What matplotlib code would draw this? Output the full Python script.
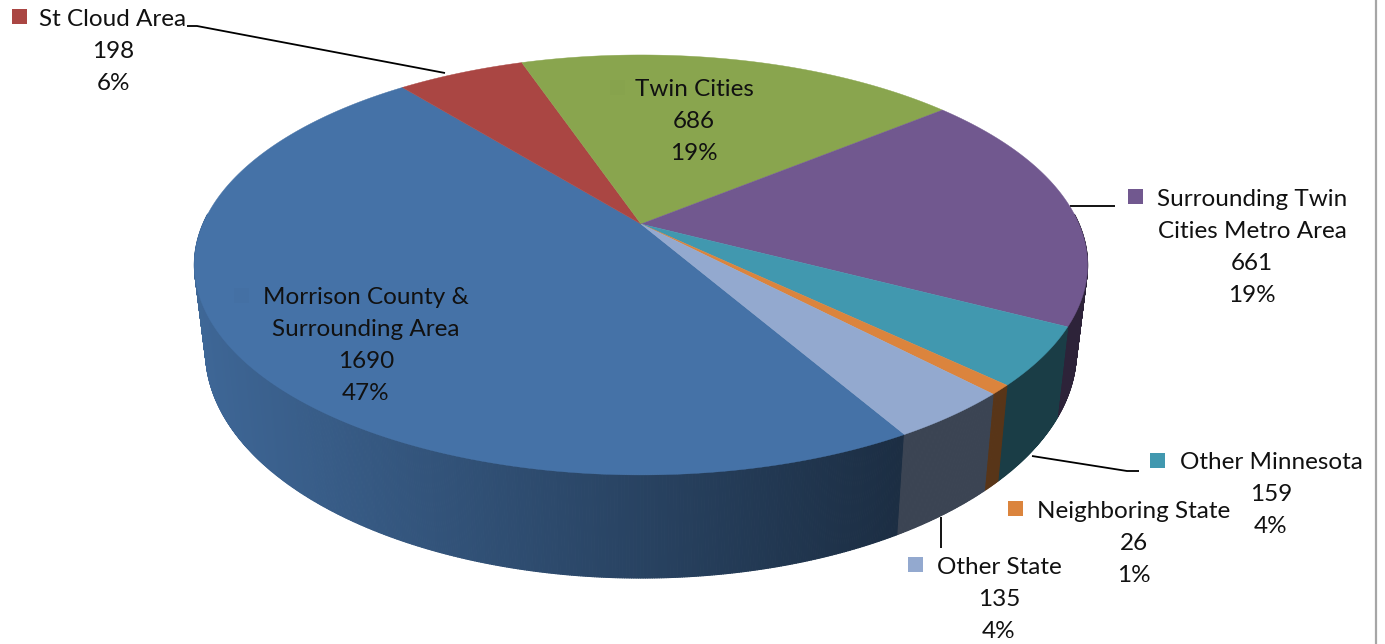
import numpy as np
import matplotlib
matplotlib.use('Agg')
import matplotlib.pyplot as plt
from matplotlib.collections import PolyCollection
from matplotlib.colors import to_rgb

categories = ['Morrison County &\nSurrounding Area', 'St Cloud Area', 'Twin Cities',
              'Surrounding Twin\nCities Metro Area', 'Other Minnesota', 'Neighboring State', 'Other State']
values = [1690, 198, 686, 661, 159, 26, 135]
percents = ['47%', '6%', '19%', '19%', '4%', '1%', '4%']
colors = ['#4572A7', '#AA4643', '#89A54E', '#71588F', '#4198AF', '#DB843D', '#93A9CF']

# label centre x, first line y, legend key left, key top
label_pos = [(366, 297, 234, 288), (113, 19, 12, 9), (694, 89, 610, 80), (1252, 199, 1128, 189),
             (1271, 462, 1150, 453), (1134, 511, 1008, 501), (999, 567, 908, 557)]
leaders = [[(187, 26), (197, 26), (445, 73)], [(1070, 206), (1115, 206)],
           [(1032, 456), (1127, 471), (1139, 471)], [(941, 517), (941, 548)]]

W, H = 1385, 644
CX, AY = 641, 224
R, B, K = 438, 202, 0.195
DEPTH, BOTTOM_SCALE = 83, 0.975
START = 150

plt.rcParams['font.family'] = ['Lato', 'DejaVu Sans']


def project(theta, depth=0.0, scale=1.0):
    # theta is clockwise from the back of the pie, in degrees
    t = np.radians(theta)
    u, v = np.sin(t), -np.cos(t)
    w = 1 - K * v
    return CX + R * scale * u / w, AY + (B * v + depth) / w


def shade(x):
    return np.clip(0.9 - 0.5 * (x - 200) / 700, 0.4, 0.95)


fig = plt.figure(figsize=(W / 100, H / 100), dpi=100)
ax = fig.add_axes([0, 0, 1, 1])
ax.set_xlim(0, W)
ax.set_ylim(H, 0)
ax.axis('off')

edges = START + np.concatenate([[0], np.cumsum(values)]) / np.sum(values) * 360

# outer wall first, split in thin strips for the shading
for i, col in enumerate(colors):
    base = np.array(to_rgb(col))
    a0, a1 = edges[i], edges[i + 1]
    n = max(int((a1 - a0) / 0.25), 2)
    th = np.linspace(a0, a1, n + 1)
    keep = -np.cos(np.radians(th)) > -0.05
    th = th[keep]
    if len(th) < 2:
        continue
    xt, yt = project(th)
    xb, yb = project(th, DEPTH, BOTTOM_SCALE)
    polys, cols = [], []
    for j in range(len(th) - 1):
        polys.append([(xt[j], yt[j]), (xt[j + 1], yt[j + 1]), (xb[j + 1], yb[j + 1]), (xb[j], yb[j])])
        cols.append(tuple(base * shade((xt[j] + xb[j]) / 2)))
    ax.add_collection(PolyCollection(polys, facecolors=cols, edgecolors=cols, linewidths=0.8, zorder=2))

# top faces
for i, col in enumerate(colors):
    th = np.linspace(edges[i], edges[i + 1], 200)
    x, y = project(th)
    ax.fill(np.r_[CX, x], np.r_[AY, y], color=col, lw=0.3, zorder=3)

for pts in leaders:
    ax.plot(*zip(*pts), color='black', lw=1.3, zorder=1, solid_capstyle='butt')

# labels with their small legend keys, the two inside the pie barely show
for name, val, pct, col, (lx, ly, kx, ky) in zip(categories, values, percents, colors, label_pos):
    lines = name.split('\n') + [str(val), pct]
    for n, line in enumerate(lines):
        ax.text(lx, ly + n * 32.3, line, ha='center', va='center', fontsize=17.5, color='#111111', zorder=5)
    inside = name in ('Twin Cities', 'Morrison County &\nSurrounding Area')
    key = tuple(np.array(to_rgb(col)) * 0.985) if inside else col
    ax.add_patch(plt.Rectangle((kx, ky), 15, 15, color=key, lw=0, zorder=4))

ax.plot([1376, 1376], [0, H], color='#A6A6A6', lw=1.6, zorder=1)

fig.savefig('out.png', dpi=100)
